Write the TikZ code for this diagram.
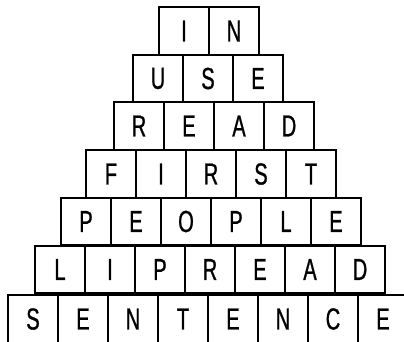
\documentclass[tikz,border=0pt]{standalone}
\usepackage{fontspec}
\usepackage{tikz}
\usetikzlibrary{positioning}
\newfontfamily\tilefont[FakeStretch=0.66, FakeBold=0.8]{Liberation Sans}

\begin{document}
\begin{tikzpicture}[x=0.03cm, y=-0.03cm,
    tile/.style={rectangle, draw, line width=1.7pt, minimum width=1.5cm, minimum height=1.431cm,
        inner sep=0pt, font=\tilefont\fontsize{26}{26}\selectfont}
]
\useasboundingbox (0,0) rectangle (404,341);
\clip (0,0) rectangle (404,341);

% Row 1 (top)
\node[tile] (T1_1) at (184, 31) {I};
\node[tile] (T1_2) at (234, 31) {N};

% Row 2
\node[tile] (T2_1) at (158, 78.5) {U};
\node[tile] (T2_2) at (208, 78.5) {S};
\node[tile] (T2_3) at (258, 78.5) {E};

% Row 3
\node[tile] (T3_1) at (139, 126) {R};
\node[tile] (T3_2) at (189, 126) {E};
\node[tile] (T3_3) at (239, 126) {A};
\node[tile] (T3_4) at (289, 126) {D};

% Row 4
\node[tile] (T4_1) at (111, 174) {F};
\node[tile] (T4_2) at (161, 174) {I};
\node[tile] (T4_3) at (211, 174) {R};
\node[tile] (T4_4) at (261, 174) {S};
\node[tile] (T4_5) at (311, 174) {T};

% Row 5
\node[tile] (T5_1) at (86, 221.5) {P};
\node[tile] (T5_2) at (136, 221.5) {E};
\node[tile] (T5_3) at (186, 221.5) {O};
\node[tile] (T5_4) at (236, 221.5) {P};
\node[tile] (T5_5) at (286, 221.5) {L};
\node[tile] (T5_6) at (336, 221.5) {E};

% Row 6
\node[tile] (T6_1) at (60, 269.5) {L};
\node[tile] (T6_2) at (110, 269.5) {I};
\node[tile] (T6_3) at (160, 269.5) {P};
\node[tile] (T6_4) at (210, 269.5) {R};
\node[tile] (T6_5) at (260, 269.5) {E};
\node[tile] (T6_6) at (310, 269.5) {A};
\node[tile] (T6_7) at (360, 269.5) {D};

% Row 7 (bottom, cut by the page edge)
\node[tile] (T7_1) at (33, 319) {S};
\node[tile] (T7_2) at (83, 319) {E};
\node[tile] (T7_3) at (133, 319) {N};
\node[tile] (T7_4) at (183, 319) {T};
\node[tile] (T7_5) at (233, 319) {E};
\node[tile] (T7_6) at (283, 319) {N};
\node[tile] (T7_7) at (333, 319) {C};
\node[tile] (T7_8) at (383, 319) {E};

\end{tikzpicture}
\end{document}
